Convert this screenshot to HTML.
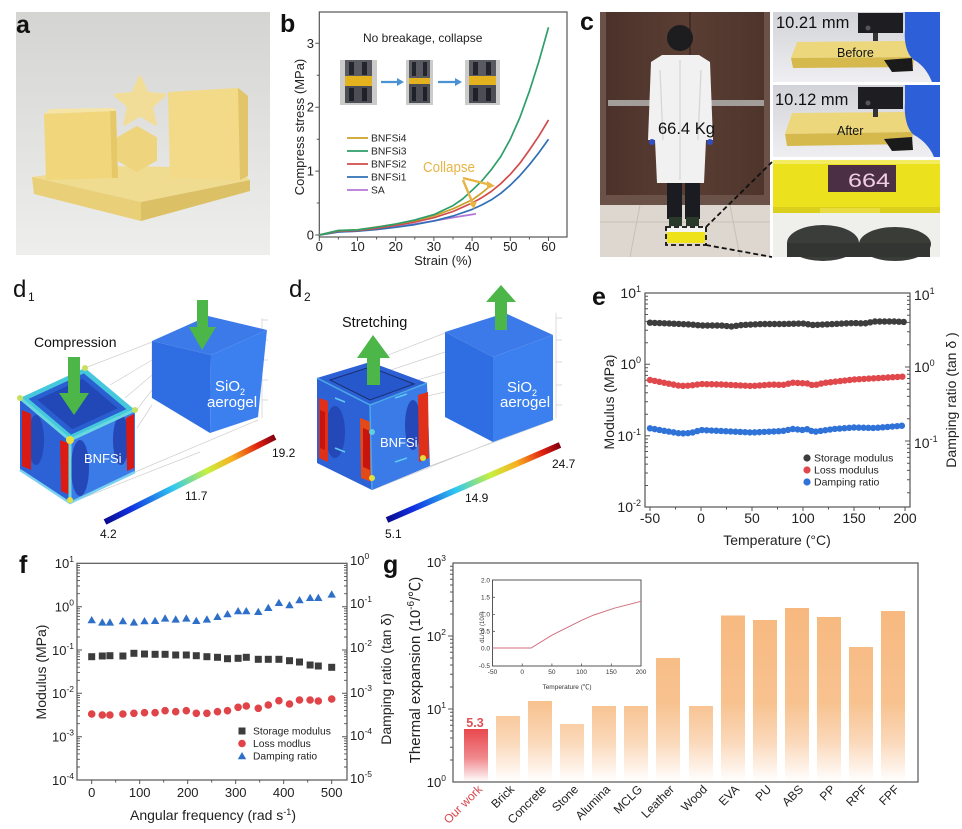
<!DOCTYPE html>
<html><head><meta charset="utf-8">
<style>
html,body{margin:0;padding:0;background:#fff;}
svg{display:block;font-family:"Liberation Sans","Noto Sans CJK SC","DejaVu Sans",sans-serif;}
</style></head><body>
<svg width="962" height="829" viewBox="0 0 962 829" xmlns="http://www.w3.org/2000/svg">
<defs>
<linearGradient id="abg" x1="0" y1="0" x2="0" y2="1"><stop offset="0" stop-color="#d4d4d2"/><stop offset="0.6" stop-color="#e4e4e2"/><stop offset="1" stop-color="#eeeeec"/></linearGradient>
<linearGradient id="cbg" x1="0" y1="0" x2="0" y2="1"><stop offset="0" stop-color="#d2d3d8"/><stop offset="1" stop-color="#efeff2"/></linearGradient>
<linearGradient id="door" x1="0" y1="0" x2="1" y2="0"><stop offset="0" stop-color="#4a3129"/><stop offset="0.5" stop-color="#5a3e34"/><stop offset="1" stop-color="#4d342b"/></linearGradient>
<linearGradient id="jet1" gradientUnits="userSpaceOnUse" x1="105" y1="522" x2="275" y2="437"><stop offset="0" stop-color="#0a0a8c"/><stop offset="0.15" stop-color="#1030e0"/><stop offset="0.4" stop-color="#30c8f0"/><stop offset="0.6" stop-color="#c8f040"/><stop offset="0.75" stop-color="#f8b020"/><stop offset="0.9" stop-color="#e02010"/><stop offset="1" stop-color="#800010"/></linearGradient>
<linearGradient id="jet2" gradientUnits="userSpaceOnUse" x1="387" y1="520" x2="560" y2="445"><stop offset="0" stop-color="#0a0a8c"/><stop offset="0.15" stop-color="#1030e0"/><stop offset="0.4" stop-color="#30c8f0"/><stop offset="0.6" stop-color="#c8f040"/><stop offset="0.75" stop-color="#f8b020"/><stop offset="0.9" stop-color="#e02010"/><stop offset="1" stop-color="#800010"/></linearGradient>
<linearGradient id="bar" gradientUnits="userSpaceOnUse" x1="0" y1="605" x2="0" y2="782"><stop offset="0" stop-color="#f7b87e"/><stop offset="0.55" stop-color="#f8c28f"/><stop offset="0.77" stop-color="#fad8b9"/><stop offset="0.93" stop-color="#fef3ea"/><stop offset="1" stop-color="#ffffff"/></linearGradient>
<linearGradient id="barr" gradientUnits="userSpaceOnUse" x1="0" y1="729" x2="0" y2="782"><stop offset="0" stop-color="#e8484e"/><stop offset="0.55" stop-color="#f08a8e"/><stop offset="1" stop-color="#ffffff"/></linearGradient>
</defs>

<!-- ================= PANEL A ================= -->
<rect x="16" y="12" width="254" height="243" fill="url(#abg)"/>
<polygon points="32,177 110,166 236,168 250,180 141,202" fill="#f0dc90"/>
<polygon points="32,177 141,202 141,221 34,194" fill="#e9cf78"/>
<polygon points="141,202 250,180 250,191 141,221" fill="#dcc066"/>
<polygon points="44,114 50,109 114,108 116,111" fill="#f6e4a4"/>
<polygon points="44,114 116,111 118,178 46,180" fill="#f2d67b"/>
<polygon points="110,111 116,111 118,178 112,178" fill="#e6c868"/>
<polygon points="168,92 238,88 248,96 248,176 240,180 170,178" fill="#f3da88"/>
<polygon points="238,88 248,96 248,176 240,180" fill="#e2c46a"/>
<polygon points="140,77 147.1,93.3 164.7,95 151.4,106.7 155.3,124 140,115 124.7,124 128.6,106.7 115.3,95 132.9,93.3" fill="#f2dd98" stroke="#f2dd98" stroke-width="3" stroke-linejoin="round"/>
<polygon points="137,127 156,138 156,160 137,171 118,160 118,138" fill="#efd47e" stroke="#efd47e" stroke-width="2" stroke-linejoin="round"/>
<text x="16" y="33" font-size="25" font-weight="bold" fill="#111">a</text>

<!-- ================= PANEL B ================= -->
<text x="280" y="32" font-size="25" font-weight="bold" fill="#111">b</text>
<rect x="319.3" y="12" width="247.7" height="225" fill="none" stroke="#555" stroke-width="1.2"/>
<path d="M319.3 237v4M357.5 237v4M395.7 237v4M433.9 237v4M472.1 237v4M510.3 237v4M548.5 237v4M338.4 237v2.5M376.6 237v2.5M414.8 237v2.5M453 237v2.5M491.2 237v2.5M529.4 237v2.5M319.3 235h-4M319.3 171.1h-4M319.3 107.2h-4M319.3 43.3h-4M319.3 203h-2.5M319.3 139.2h-2.5M319.3 75.3h-2.5" stroke="#555" stroke-width="1"/>
<g font-size="13" fill="#222" text-anchor="middle">
<text x="319.3" y="251">0</text><text x="357.5" y="251">10</text><text x="395.7" y="251">20</text><text x="433.9" y="251">30</text><text x="472.1" y="251">40</text><text x="510.3" y="251">50</text><text x="548.5" y="251">60</text>
</g>
<g font-size="13" fill="#222" text-anchor="end">
<text x="314" y="239.5">0</text><text x="314" y="175.6">1</text><text x="314" y="111.7">2</text><text x="314" y="47.8">3</text>
</g>
<text transform="translate(304,127) rotate(-90)" text-anchor="middle" font-size="13" fill="#222">Compress stress (MPa)</text>
<text x="443" y="265" text-anchor="middle" font-size="13" fill="#222">Strain (%)</text>
<text x="363" y="42" font-size="12" fill="#222">No breakage, collapse</text>
<!-- photos -->
<rect x="340" y="60" width="37" height="45" fill="#cbcbc9"/>
<rect x="345" y="60" width="27" height="16" fill="#5a5b62"/><rect x="349" y="62" width="5" height="13" fill="#23242c"/><rect x="362" y="62" width="5" height="13" fill="#23242c"/>
<rect x="345" y="76" width="27" height="10" fill="#e3b21e"/>
<rect x="345" y="86" width="27" height="17" fill="#4c4d55"/><rect x="349" y="88" width="5" height="13" fill="#202128"/><rect x="362" y="88" width="5" height="13" fill="#202128"/>
<rect x="406" y="60" width="27" height="45" fill="#cbcbc9"/>
<rect x="409" y="60" width="21" height="18" fill="#5a5b62"/><rect x="412" y="62" width="4" height="14" fill="#23242c"/><rect x="423" y="62" width="4" height="14" fill="#23242c"/>
<rect x="409" y="78" width="21" height="6" fill="#e3b21e"/>
<rect x="409" y="84" width="21" height="19" fill="#4c4d55"/><rect x="412" y="87" width="4" height="14" fill="#202128"/><rect x="423" y="87" width="4" height="14" fill="#202128"/>
<rect x="465" y="60" width="35" height="45" fill="#cbcbc9"/>
<rect x="469" y="60" width="27" height="16" fill="#5a5b62"/><rect x="473" y="62" width="5" height="13" fill="#23242c"/><rect x="486" y="62" width="5" height="13" fill="#23242c"/>
<rect x="469" y="76" width="27" height="9" fill="#e3b21e"/>
<rect x="469" y="85" width="27" height="18" fill="#4c4d55"/><rect x="473" y="88" width="5" height="13" fill="#202128"/><rect x="486" y="88" width="5" height="13" fill="#202128"/>
<path d="M381 82h16M438 82h17" stroke="#4a92d2" stroke-width="2.2"/>
<polygon points="397,78 404,82 397,86" fill="#4a92d2"/><polygon points="455,78 462,82 455,86" fill="#4a92d2"/>
<!-- curves -->
<g fill="none" stroke-width="1.7" stroke-linejoin="round">
<polyline stroke="#b276d8" points="319.3,235 338.4,231.8 357.5,231.2 376.6,228.5 395.7,226.7 414.8,224 433.9,220.9 453,217.5 475.9,213.9"/>
<polyline stroke="#2f6fb5" points="319.3,235 338.4,232 357.5,231.2 376.6,229.5 395.7,227.3 414.8,224.6 433.9,220.9 453,216 472.1,209.4 481.7,205 491.2,199.9 500.8,193.3 510.3,185.2 519.9,175.6 529.4,164.7 539,152.5 548.5,139.2"/>
<polyline stroke="#d24b4b" points="319.3,235 338.4,231.2 357.5,230.5 376.6,228.3 395.7,225.4 414.8,222 433.9,217.7 453,211.5 472.1,203 481.7,197.7 491.2,191.5 500.8,183.6 510.3,174.3 519.9,163.2 529.4,150 539,135.8 548.5,120"/>
<polyline stroke="#c9a227" points="319.3,235 338.4,230.5 357.5,229.9 376.6,227 395.7,224.1 414.8,220.6 433.9,215.8 453,208.8 472.1,199.9 481.7,193 491.2,185.2"/>
<polyline stroke="#2e9e6a" points="319.3,235 338.4,230.5 357.5,229.9 376.6,227.2 395.7,224.1 414.8,220 433.9,214.6 453,205.6 462.6,199 472.1,190.3 481.7,181 491.2,169.8 500.8,156.5 510.3,139.2 519.9,117.5 529.4,91.2 539,61 548.5,27.3"/>
</g>
<!-- legend -->
<g stroke-width="1.8"><path d="M347 138h21" stroke="#c9a227"/><path d="M347 151h21" stroke="#2e9e6a"/><path d="M347 164h21" stroke="#d24b4b"/><path d="M347 177h21" stroke="#2f6fb5"/><path d="M347 190h21" stroke="#b276d8"/></g>
<g font-size="10.3" fill="#222"><text x="371" y="141.5">BNFSi4</text><text x="371" y="154.5">BNFSi3</text><text x="371" y="167.5">BNFSi2</text><text x="371" y="180.5">BNFSi1</text><text x="371" y="193.5">SA</text></g>
<text x="423" y="172" font-size="15" fill="#e8b444" textLength="52" lengthAdjust="spacingAndGlyphs">Collapse</text>
<path d="M463 178L491 185M463 180L473 204" stroke="#e8b444" stroke-width="2.4" fill="none"/>
<polygon points="487,181 495,186 487,189" fill="#e8b444"/><polygon points="469,203 474,209 477,201" fill="#e8b444"/>

<!-- ================= PANEL C ================= -->
<text x="580" y="30" font-size="25" font-weight="bold" fill="#111">c</text>
<rect x="600" y="12" width="170" height="188" fill="url(#door)"/>
<rect x="600" y="12" width="6" height="188" fill="#6b5148"/>
<rect x="764" y="12" width="6" height="188" fill="#6b5148"/>
<path d="M690 12v185" stroke="#3c2620" stroke-width="1.5"/>
<rect x="608" y="100" width="156" height="6" fill="#a39d9a"/>
<rect x="600" y="195" width="170" height="10" fill="#6a5248"/>
<rect x="600" y="205" width="170" height="52" fill="#ddd7cf"/>
<path d="M600 222h170M640 205l-10 52M730 205l10 52" stroke="#c7c0b6" stroke-width="1"/>
<circle cx="680" cy="38" r="13" fill="#1d1d1f"/>
<polygon points="662,55 699,55 710,62 713,140 706,140 704,183 657,183 655,140 648,140 651,62" fill="#f1f1f1"/>
<path d="M680 60v120M660 70l3 70M701 70l-3 70" stroke="#d4d4d4" stroke-width="1.2"/>
<circle cx="652" cy="142" r="3" fill="#3050c8"/><circle cx="710" cy="142" r="3" fill="#3050c8"/>
<rect x="667" y="183" width="15" height="36" fill="#1b1c22"/><rect x="685" y="183" width="15" height="36" fill="#1b1c22"/>
<rect x="669" y="217" width="13" height="9" fill="#2a3a2a"/><rect x="686" y="217" width="13" height="9" fill="#2a3a2a"/>
<rect x="667" y="227" width="38" height="5" fill="#f4f4f0"/>
<rect x="667" y="232" width="38" height="11" fill="#eee21a"/>
<rect x="666" y="227" width="40" height="18" fill="none" stroke="#111" stroke-width="1.8" stroke-dasharray="5,3"/>
<path d="M706 227L772 162M706 245L772 257" stroke="#111" stroke-width="1.8" stroke-dasharray="5,3"/>
<text x="658" y="134" font-size="16.5" fill="#111">66.4 Kg</text>
<!-- right top photo -->
<rect x="773" y="12" width="167" height="70" fill="url(#cbg)"/>
<polygon points="797,42 906,41 914,57 791,58" fill="#ecd77c"/>
<polygon points="791,58 914,57 913,67 793,68" fill="#d6b94c"/>
<rect x="858" y="13" width="45" height="20" fill="#1e1e22"/><circle cx="868" cy="28" r="2.5" fill="#555"/>
<rect x="873" y="33" width="5" height="8" fill="#333"/>
<polygon points="884,60 912,58 913,71 892,72" fill="#1a1a1a"/>
<path d="M905 12h35v70h-8c-4-10-10-18-18-22c-8-6-10-20-9-30z" fill="#2d5fd8"/>
<text x="776" y="28" font-size="16.5" fill="#111">10.21 mm</text>
<text x="837" y="57" font-size="12.5" fill="#111">Before</text>
<!-- right middle photo -->
<rect x="773" y="85" width="167" height="72" fill="url(#cbg)"/>
<polygon points="792,113 905,112 913,132 785,134" fill="#ecd77c"/>
<polygon points="785,134 913,132 912,144 787,146" fill="#d6b94c"/>
<rect x="858" y="87" width="45" height="22" fill="#1e1e22"/><circle cx="868" cy="103" r="2.5" fill="#555"/>
<rect x="873" y="109" width="5" height="8" fill="#333"/>
<polygon points="884,139 912,137 913,150 892,151" fill="#1a1a1a"/>
<path d="M905 85h35v72h-6c-4-10-12-18-20-22c-8-6-10-22-9-32z" fill="#2d5fd8"/>
<text x="775" y="105" font-size="16.5" fill="#111">10.12 mm</text>
<text x="837" y="135" font-size="12.5" fill="#111">After</text>
<!-- right bottom photo -->
<rect x="773" y="160" width="167" height="53" fill="#ebe11c"/>
<rect x="773" y="160" width="167" height="4" fill="#f4ec60"/>
<rect x="828" y="165" width="68" height="27" fill="#4a2f45"/>
<text x="848" y="187" font-size="19" fill="#f2cce4" textLength="42" lengthAdjust="spacingAndGlyphs">664</text>
<rect x="773" y="207" width="167" height="6" fill="#d9cf1c"/>
<rect x="820" y="208" width="60" height="5" fill="#e8dc40"/>
<rect x="773" y="213" width="167" height="44" fill="#efefec"/>
<ellipse cx="823" cy="243" rx="36" ry="18" fill="#3b3d3a"/>
<ellipse cx="895" cy="244" rx="36" ry="17" fill="#3a3c38"/>
<rect x="787" y="243" width="143" height="14" fill="#333532"/>

<!-- ================= PANEL D1 ================= -->
<text x="13" y="297" font-size="24" fill="#111">d</text><text x="28" y="301" font-size="12" fill="#111">1</text>
<g stroke="#cfcfcf" stroke-width="0.7" fill="none">
<path d="M85 368L152 342M110 385L152 360M125 398L152 375M135 412L152 390M137 428L152 405M135 472L258 420M70 503L200 452M152 342L152 398"/>
<path d="M262 318v100M262 320h6M262 340h6M262 360h6M262 380h6M262 400h6"/>
</g>
<polygon points="20,398 70,440 70,503 20,470" fill="#2d62d6"/>
<polygon points="70,440 135,410 135,472 70,503" fill="#3a7be8"/>
<polygon points="20,398 85,368 135,410 70,440" fill="#46c8dc"/>
<polygon points="28.6,398.9 83.9,373.4 126.4,409.1 71.1,434.6" fill="#2a5fd2"/>
<polygon points="37.3,399.8 82.8,378.8 117.8,408.2 72.3,429.2" fill="#2248b8"/>
<ellipse cx="36" cy="440" rx="8" ry="25" fill="#2448b8"/>
<ellipse cx="80" cy="468" rx="9" ry="28" fill="#2448b8"/>
<ellipse cx="121" cy="440" rx="8" ry="25" fill="#2448b8"/>
<polygon points="22,410 31,414 31,470 22,466" fill="#d81a14"/>
<polygon points="60,440 70,444 70,495 61,491" fill="#dc1c12"/>
<polygon points="126,418 134,414 134,468 127,471" fill="#d81a14"/>
<path d="M20 398L70 440L70 503M70 440L135 410" stroke="#6ad8e0" stroke-width="3" fill="none"/>
<path d="M20 470L70 503L135 472" stroke="#7ad0f0" stroke-width="2.5" fill="none"/>
<circle cx="70" cy="440" r="4" fill="#e8e040"/><circle cx="85" cy="368" r="3" fill="#c8e060"/><circle cx="135" cy="410" r="3" fill="#c8e060"/><circle cx="20" cy="398" r="3" fill="#c8e060"/>
<circle cx="70" cy="500" r="3" fill="#e0e040"/>
<text x="84" y="463" font-size="13" fill="#fff">BNFSi</text>
<polygon points="152,341 208,316 267,330 211,355" fill="#3b7ae8"/>
<polygon points="152,341 211,355 210,433 152,398" fill="#2f6ee2"/>
<polygon points="211,355 267,330 258,417 210,433" fill="#3c80f0"/>
<text x="215" y="391" font-size="15" fill="#fff">SiO<tspan dy="4" font-size="9">2</tspan></text>
<text x="207" y="407" font-size="15" fill="#fff">aerogel</text>
<polygon points="68,357 80,357 80,393 89,393 74,415 59,393 68,393" fill="#4cb648"/>
<polygon points="197,300 208,300 208,327 216,327 202,350 189,327 197,327" fill="#4cb648"/>
<line x1="105" y1="522" x2="275" y2="437" stroke="url(#jet1)" stroke-width="6"/>
<g font-size="12" fill="#111"><text x="100" y="538">4.2</text><text x="185" y="500">11.7</text><text x="272" y="457">19.2</text></g>
<text x="34" y="347" font-size="14" fill="#111">Compression</text>

<!-- ================= PANEL D2 ================= -->
<text x="289" y="297" font-size="24" fill="#111">d</text><text x="304" y="301" font-size="12" fill="#111">2</text>
<g stroke="#cfcfcf" stroke-width="0.7" fill="none">
<path d="M370 362L445 333M385 372L445 352M400 385L445 372M410 400L445 392M430 466L553 420M372 490L493 442M556 313v105M556 318h6M556 340h6M556 362h6M556 385h6M556 405h6"/>
</g>
<polygon points="317,378 370,405 372,490 317,463" fill="#2d62d6"/>
<polygon points="370,405 427,383 430,466 372,490" fill="#3a7be8"/>
<polygon points="317,378 370,362 427,383 370,405" fill="#2c60d4"/>
<polygon points="330,380 370,367 414,384 370,400" fill="#2658cc" stroke="#1a2e70" stroke-width="1"/>
<ellipse cx="335" cy="432" rx="10" ry="26" fill="#2448b8"/>
<ellipse cx="413" cy="425" rx="8" ry="25" fill="#2448b8"/>
<polygon points="319,398 328,401 328,462 319,458" fill="#e0301a"/>
<polygon points="320,410 325,412 325,450 320,448" fill="#c8140e"/>
<polygon points="360,418 371,422 372,482 361,478" fill="#e44a18"/>
<polygon points="363,428 370,431 370,470 363,467" fill="#c8140e"/>
<polygon points="418,395 428,392 429,458 419,462" fill="#e0301a"/>
<path d="M317 378L370 405L372 490M370 405L427 383" stroke="#4aa8e8" stroke-width="1.5" fill="none"/>
<circle cx="372" cy="432" r="3" fill="#60d0e0"/><circle cx="372" cy="478" r="3" fill="#e0e040"/><circle cx="423" cy="458" r="3" fill="#e0e040"/>
<path d="M335 398l10 4M395 398l12-4M335 448l10 4M395 462l12-4" stroke="#60c8f0" stroke-width="1.5"/>
<text x="380" y="447" font-size="13" fill="#fff">BNFSi</text>
<polygon points="445,332 505,313 553,335 493,357" fill="#3b7ae8"/>
<polygon points="445,332 493,357 493,442 445,417" fill="#2f6ee2"/>
<polygon points="493,357 553,335 553,420 493,442" fill="#3c80f0"/>
<text x="507" y="392" font-size="15" fill="#fff">SiO<tspan dy="4" font-size="9">2</tspan></text>
<text x="500" y="407" font-size="15" fill="#fff">aerogel</text>
<polygon points="367,385 380,385 380,358 390,358 373,335 357,358 367,358" fill="#4cb648"/>
<polygon points="495,330 507,330 507,302 516,302 501,285 486,302 495,302" fill="#4cb648"/>
<line x1="387" y1="520" x2="560" y2="445" stroke="url(#jet2)" stroke-width="6"/>
<g font-size="12" fill="#111"><text x="385" y="538">5.1</text><text x="465" y="502">14.9</text><text x="552" y="468">24.7</text></g>
<text x="342" y="327" font-size="14.5" fill="#111">Stretching</text>

<!-- ================= PANEL E ================= -->
<text x="592" y="305" font-size="25" font-weight="bold" fill="#111">e</text>
<rect x="645" y="293" width="265" height="214" fill="none" stroke="#555" stroke-width="1.2"/>
<path d="M650 507v4M701 507v4M752 507v4M803 507v4M854 507v4M905 507v4M675.5 507v2.5M726.5 507v2.5M777.5 507v2.5M828.5 507v2.5M879.5 507v2.5M645 364.3h5M645 435.7h5M645 485.5h3M645 473h3M645 464.1h3M645 457.2h3M645 451.5h3M645 446.7h3M645 442.6h3M645 439h3M645 414.2h3M645 401.7h3M645 392.8h3M645 385.9h3M645 380.2h3M645 375.4h3M645 371.3h3M645 367.7h3M645 342.8h3M645 330.3h3M645 321.4h3M645 314.5h3M645 308.8h3M645 304h3M645 299.9h3M645 296.3h3M910 367h-5M910 441h-5M910 344.7h-3M910 331.7h-3M910 322.4h-3M910 315.3h-3M910 309.4h-3M910 304.5h-3M910 300.2h-3M910 296.4h-3M910 418.7h-3M910 405.7h-3M910 396.4h-3M910 389.3h-3M910 383.4h-3M910 378.5h-3M910 374.2h-3M910 370.4h-3M910 492.7h-3M910 479.7h-3M910 470.4h-3M910 463.3h-3M910 457.4h-3M910 452.5h-3M910 448.2h-3M910 444.4h-3" stroke="#555" stroke-width="1"/>
<g font-size="14" fill="#222" text-anchor="middle">
<text x="650" y="523">-50</text><text x="701" y="523">0</text><text x="752" y="523">50</text><text x="803" y="523">100</text><text x="854" y="523">150</text><text x="905" y="523">200</text>
</g>
<g font-size="14" fill="#222" text-anchor="end">
<text x="641" y="298">10<tspan dy="-6" font-size="9">1</tspan></text>
<text x="641" y="369">10<tspan dy="-6" font-size="9">0</tspan></text>
<text x="641" y="441">10<tspan dy="-6" font-size="9">-1</tspan></text>
<text x="641" y="512">10<tspan dy="-6" font-size="9">-2</tspan></text>
</g>
<g font-size="14" fill="#222">
<text x="914" y="300">10<tspan dy="-6" font-size="9">1</tspan></text>
<text x="914" y="372">10<tspan dy="-6" font-size="9">0</tspan></text>
<text x="914" y="448">10<tspan dy="-6" font-size="9">-1</tspan></text>
</g>
<text transform="translate(614,402) rotate(-90)" text-anchor="middle" font-size="14" fill="#222">Modulus (MPa)</text>
<text transform="translate(956,400) rotate(-90)" text-anchor="middle" font-size="14" fill="#222">Damping ratio (tan δ )</text>
<text x="777" y="545" text-anchor="middle" font-size="14" fill="#222">Temperature (°C)</text>
<g fill="none" stroke-width="6.4" stroke-linecap="round" stroke-dasharray="0 4.8">
<polyline stroke="#3d3d3d" points="650,322.7 670.4,323.5 690.8,324.5 701,325.5 721.4,325.5 731.6,326.5 741.8,325 762.2,324 782.6,324 803,323.5 813.2,325 833.6,324 854,323 864.2,323.5 874.4,321.5 894.8,321.5 905,322"/>
<polyline stroke="#e0484b" points="650,380 665.3,383 680.6,386 690.8,385.5 701,384 721.4,384.5 752,386 772.4,384.5 782.6,385 792.8,382.7 808.1,383.5 813.2,385.5 823.4,383 854,379.5 879.5,378 905,376.5"/>
<polyline stroke="#2f72d8" points="650,428.3 665.3,431 680.6,433.5 690.8,433 701,430 721.4,431 752,432.5 782.6,431 792.8,429 803,430 808.1,429 813.2,432 833.6,429 854,427.5 874.4,428 905,425.5"/>
</g>
<circle cx="807" cy="458" r="3.6" fill="#3d3d3d"/><circle cx="807" cy="470" r="3.6" fill="#e0484b"/><circle cx="807" cy="482" r="3.6" fill="#2f72d8"/>
<g font-size="10.5" fill="#222"><text x="814" y="461.5">Storage modulus</text><text x="814" y="473.5">Loss modulus</text><text x="814" y="485.5">Damping ratio</text></g>

<!-- ================= PANEL F ================= -->
<text x="19" y="573" font-size="25" font-weight="bold" fill="#111">f</text>
<rect x="77" y="563.3" width="270" height="216.7" fill="none" stroke="#555" stroke-width="1.2"/>
<path d="M91.7 780v4M139.7 780v4M187.7 780v4M235.7 780v4M283.7 780v4M331.7 780v4M115.7 780v2.5M163.7 780v2.5M211.7 780v2.5M259.7 780v2.5M307.7 780v2.5M77 606.7h5M77 650h5M77 693.3h5M77 736.7h5M347 606.7h-5M347 650h-5M347 693.3h-5M347 736.7h-5" stroke="#555" stroke-width="1"/>
<path d="M77 767h3M77 759.3h3M77 753.9h3M77 749.7h3M77 746.3h3M77 743.4h3M77 740.9h3M77 738.7h3M77 723.7h3M77 716h3M77 710.6h3M77 706.4h3M77 703h3M77 700.1h3M77 697.6h3M77 695.4h3M77 680.3h3M77 672.6h3M77 667.2h3M77 663h3M77 659.6h3M77 656.7h3M77 654.2h3M77 652h3M77 637h3M77 629.3h3M77 623.9h3M77 619.7h3M77 616.3h3M77 613.4h3M77 610.9h3M77 608.7h3M77 593.7h3M77 586h3M77 580.6h3M77 576.4h3M77 573h3M77 570.1h3M77 567.6h3M77 565.4h3M347 767h-3M347 759.3h-3M347 753.9h-3M347 749.7h-3M347 746.3h-3M347 743.4h-3M347 740.9h-3M347 738.7h-3M347 723.7h-3M347 716h-3M347 710.6h-3M347 706.4h-3M347 703h-3M347 700.1h-3M347 697.6h-3M347 695.4h-3M347 680.3h-3M347 672.6h-3M347 667.2h-3M347 663h-3M347 659.6h-3M347 656.7h-3M347 654.2h-3M347 652h-3M347 637h-3M347 629.3h-3M347 623.9h-3M347 619.7h-3M347 616.3h-3M347 613.4h-3M347 610.9h-3M347 608.7h-3M347 593.7h-3M347 586h-3M347 580.6h-3M347 576.4h-3M347 573h-3M347 570.1h-3M347 567.6h-3M347 565.4h-3" stroke="#555" stroke-width="0.9"/>
<g font-size="13" fill="#222" text-anchor="middle">
<text x="91.7" y="797">0</text><text x="139.7" y="797">100</text><text x="187.7" y="797">200</text><text x="235.7" y="797">300</text><text x="283.7" y="797">400</text><text x="331.7" y="797">500</text>
</g>
<g font-size="13" fill="#222" text-anchor="end">
<text x="74" y="568">10<tspan dy="-6" font-size="8.5">1</tspan></text>
<text x="74" y="611.5">10<tspan dy="-6" font-size="8.5">0</tspan></text>
<text x="74" y="655">10<tspan dy="-6" font-size="8.5">-1</tspan></text>
<text x="74" y="698">10<tspan dy="-6" font-size="8.5">-2</tspan></text>
<text x="74" y="741.5">10<tspan dy="-6" font-size="8.5">-3</tspan></text>
<text x="74" y="785">10<tspan dy="-6" font-size="8.5">-4</tspan></text>
</g>
<g font-size="13" fill="#222">
<text x="350" y="565">10<tspan dy="-6" font-size="8.5">0</tspan></text>
<text x="350" y="608">10<tspan dy="-6" font-size="8.5">-1</tspan></text>
<text x="350" y="652">10<tspan dy="-6" font-size="8.5">-2</tspan></text>
<text x="350" y="697">10<tspan dy="-6" font-size="8.5">-3</tspan></text>
<text x="350" y="740">10<tspan dy="-6" font-size="8.5">-4</tspan></text>
<text x="350" y="783">10<tspan dy="-6" font-size="8.5">-5</tspan></text>
</g>
<text transform="translate(46,672) rotate(-90)" text-anchor="middle" font-size="14" fill="#222">Modulus (MPa)</text>
<text transform="translate(391,679) rotate(-90)" text-anchor="middle" font-size="14" fill="#222">Damping ratio (tan δ)</text>
<text x="213" y="820" text-anchor="middle" font-size="14" fill="#222">Angular frequency (rad s<tspan dy="-5" font-size="9">-1</tspan><tspan dy="5">)</tspan></text>
<!-- triangles -->
<g fill="#2e6fc9">
<path d="M91.7 616l4.2 7.3h-8.4z"/><path d="M102.3 618.3l4.2 7.3h-8.4z"/><path d="M109.9 618.3l4.2 7.3h-8.4z"/><path d="M122.9 617l4.2 7.3h-8.4z"/><path d="M133.9 618.3l4.2 7.3h-8.4z"/><path d="M144.5 617l4.2 7.3h-8.4z"/><path d="M155.1 616.7l4.2 7.3h-8.4z"/><path d="M165.1 614.3l4.2 7.3h-8.4z"/><path d="M175.7 615.3l4.2 7.3h-8.4z"/><path d="M186.3 614.3l4.2 7.3h-8.4z"/><path d="M196.3 616.7l4.2 7.3h-8.4z"/><path d="M206.9 615.3l4.2 7.3h-8.4z"/><path d="M217.5 612.7l4.2 7.3h-8.4z"/><path d="M227.5 610l4.2 7.3h-8.4z"/><path d="M238.1 607l4.2 7.3h-8.4z"/><path d="M246.3 607l4.2 7.3h-8.4z"/><path d="M258.3 607.7l4.2 7.3h-8.4z"/><path d="M268.3 603.7l4.2 7.3h-8.4z"/><path d="M278.9 598.7l4.2 7.3h-8.4z"/><path d="M289.5 601l4.2 7.3h-8.4z"/><path d="M299.5 596l4.2 7.3h-8.4z"/><path d="M310.1 593.7l4.2 7.3h-8.4z"/><path d="M318.3 593.7l4.2 7.3h-8.4z"/><path d="M331.7 590.3l4.2 7.3h-8.4z"/>
</g>
<g fill="#3c3c3c">
<rect x="88.2" y="653.2" width="7" height="7"/><rect x="98.8" y="652.5" width="7" height="7"/><rect x="106.4" y="652.2" width="7" height="7"/><rect x="119.4" y="652.5" width="7" height="7"/><rect x="130.4" y="649.8" width="7" height="7"/><rect x="141" y="650.5" width="7" height="7"/><rect x="151.6" y="650.8" width="7" height="7"/><rect x="161.6" y="650.8" width="7" height="7"/><rect x="172.2" y="651.5" width="7" height="7"/><rect x="182.8" y="651.5" width="7" height="7"/><rect x="192.8" y="652.2" width="7" height="7"/><rect x="203.4" y="653.2" width="7" height="7"/><rect x="214" y="653.8" width="7" height="7"/><rect x="224" y="655.2" width="7" height="7"/><rect x="234.6" y="654.8" width="7" height="7"/><rect x="242.8" y="653.8" width="7" height="7"/><rect x="254.8" y="655.8" width="7" height="7"/><rect x="264.8" y="655.8" width="7" height="7"/><rect x="275.4" y="655.8" width="7" height="7"/><rect x="286" y="657.2" width="7" height="7"/><rect x="296" y="658.5" width="7" height="7"/><rect x="306.6" y="661.5" width="7" height="7"/><rect x="314.8" y="662.5" width="7" height="7"/><rect x="328.2" y="663.8" width="7" height="7"/>
</g>
<g fill="#e04348">
<circle cx="91.7" cy="714" r="3.8"/><circle cx="102.3" cy="715" r="3.8"/><circle cx="109.9" cy="715" r="3.8"/><circle cx="122.9" cy="714" r="3.8"/><circle cx="133.9" cy="713.3" r="3.8"/><circle cx="144.5" cy="712.7" r="3.8"/><circle cx="155.1" cy="712.7" r="3.8"/><circle cx="165.1" cy="710.7" r="3.8"/><circle cx="175.7" cy="711.7" r="3.8"/><circle cx="186.3" cy="710.7" r="3.8"/><circle cx="196.3" cy="713.3" r="3.8"/><circle cx="206.9" cy="713.3" r="3.8"/><circle cx="217.5" cy="711.7" r="3.8"/><circle cx="227.5" cy="710.7" r="3.8"/><circle cx="238.1" cy="707.3" r="3.8"/><circle cx="246.3" cy="706" r="3.8"/><circle cx="258.3" cy="708.3" r="3.8"/><circle cx="268.3" cy="705" r="3.8"/><circle cx="278.9" cy="700.7" r="3.8"/><circle cx="289.5" cy="704" r="3.8"/><circle cx="299.5" cy="700" r="3.8"/><circle cx="310.1" cy="700" r="3.8"/><circle cx="318.3" cy="701" r="3.8"/><circle cx="331.7" cy="699" r="3.8"/>
</g>
<rect x="238.5" y="727.5" width="7" height="7" fill="#3c3c3c"/>
<circle cx="242" cy="743.5" r="3.8" fill="#e04348"/>
<path d="M242 752l4.2 7.3h-8.4z" fill="#2e6fc9"/>
<g font-size="10.3" fill="#222"><text x="253" y="734.5">Storage modulus</text><text x="253" y="747">Loss modlus</text><text x="253" y="759.5">Damping ratio</text></g>

<!-- ================= PANEL G ================= -->
<text x="383" y="573" font-size="25" font-weight="bold" fill="#111">g</text>
<g>
<rect x="464" y="729" width="24" height="53" fill="url(#barr)"/>
<rect x="496" y="716" width="24" height="66" fill="url(#bar)"/>
<rect x="528" y="701" width="24" height="81" fill="url(#bar)"/>
<rect x="560" y="724" width="24" height="58" fill="url(#bar)"/>
<rect x="592" y="706" width="24" height="76" fill="url(#bar)"/>
<rect x="624" y="706" width="24" height="76" fill="url(#bar)"/>
<rect x="656" y="658" width="24" height="124" fill="url(#bar)"/>
<rect x="689" y="706" width="24" height="76" fill="url(#bar)"/>
<rect x="721" y="615.5" width="24" height="166.5" fill="url(#bar)"/>
<rect x="753" y="620" width="24" height="162" fill="url(#bar)"/>
<rect x="785" y="608" width="24" height="174" fill="url(#bar)"/>
<rect x="817" y="617" width="24" height="165" fill="url(#bar)"/>
<rect x="849" y="647" width="24" height="135" fill="url(#bar)"/>
<rect x="881" y="611" width="24" height="171" fill="url(#bar)"/>
</g>
<rect x="453" y="563" width="465" height="219" fill="none" stroke="#555" stroke-width="1.2"/>
<path d="M453 636h-5M453 709h-5M453 760h-3M453 747.2h-3M453 738h-3M453 731h-3M453 725.2h-3M453 720.3h-3M453 716.1h-3M453 712.3h-3M453 687h-3M453 674.2h-3M453 665h-3M453 658h-3M453 652.2h-3M453 647.3h-3M453 643.1h-3M453 639.3h-3M453 614h-3M453 601.2h-3M453 592h-3M453 585h-3M453 579.2h-3M453 574.3h-3M453 570.1h-3M453 566.3h-3" stroke="#555" stroke-width="1"/>
<g font-size="13" fill="#222" text-anchor="end">
<text x="446" y="567">10<tspan dy="-6" font-size="8.5">3</tspan></text>
<text x="446" y="641">10<tspan dy="-6" font-size="8.5">2</tspan></text>
<text x="446" y="714">10<tspan dy="-6" font-size="8.5">1</tspan></text>
<text x="446" y="787">10<tspan dy="-6" font-size="8.5">0</tspan></text>
</g>
<text transform="translate(420,670) rotate(-90)" text-anchor="middle" font-size="15" fill="#222">Thermal expansion (10<tspan dy="-6" font-size="10">-6</tspan><tspan dy="6">/℃)</tspan></text>
<text x="475" y="727" text-anchor="middle" font-size="12.5" font-weight="bold" fill="#e05055">5.3</text>
<g font-size="12" fill="#222" text-anchor="end">
<text transform="translate(483,790) rotate(-45)" fill="#d9474c">Our work</text>
<text transform="translate(515,790) rotate(-45)">Brick</text>
<text transform="translate(547,790) rotate(-45)">Concrete</text>
<text transform="translate(579,790) rotate(-45)">Stone</text>
<text transform="translate(611,790) rotate(-45)">Alumina</text>
<text transform="translate(643,790) rotate(-45)">MCLG</text>
<text transform="translate(675,790) rotate(-45)">Leather</text>
<text transform="translate(708,790) rotate(-45)">Wood</text>
<text transform="translate(740,790) rotate(-45)">EVA</text>
<text transform="translate(772,790) rotate(-45)">PU</text>
<text transform="translate(804,790) rotate(-45)">ABS</text>
<text transform="translate(836,790) rotate(-45)">PP</text>
<text transform="translate(868,790) rotate(-45)">RPF</text>
<text transform="translate(900,790) rotate(-45)">FPF</text>
</g>
<!-- inset -->
<rect x="492.5" y="580" width="148.5" height="86" fill="#fff" stroke="#555" stroke-width="1"/>
<path d="M492.5 580h2.5M492.5 597.3h2.5M492.5 614.6h2.5M492.5 631.3h2.5M492.5 648h2.5M522.2 666v-2.5M551.9 666v-2.5M581.6 666v-2.5M611.3 666v-2.5" stroke="#555" stroke-width="0.8"/>
<g font-size="6.5" fill="#333" text-anchor="end">
<text x="490" y="582.5">2.0</text><text x="490" y="599.5">1.5</text><text x="490" y="616.5">1.0</text><text x="490" y="633.5">0.5</text><text x="490" y="650.5">0.0</text><text x="490" y="668">-0.5</text>
</g>
<g font-size="6.5" fill="#333" text-anchor="middle">
<text x="492.5" y="674">-50</text><text x="522.2" y="674">0</text><text x="551.9" y="674">50</text><text x="581.6" y="674">100</text><text x="611.3" y="674">150</text><text x="641" y="674">200</text>
</g>
<text transform="translate(484,627) rotate(-90)" text-anchor="middle" font-size="6" fill="#333">dL/L0 (10<tspan dy="-2" font-size="4.5">-3</tspan><tspan dy="2">)</tspan></text>
<text x="567" y="689" text-anchor="middle" font-size="6.5" fill="#333">Temperature (℃)</text>
<polyline points="492.5,648 531.1,648 551.9,635.2 581.6,620.3 593.5,615.1 614.3,608.2 641,601.3" fill="none" stroke="#d0707e" stroke-width="1"/>
</svg>
</body></html>
